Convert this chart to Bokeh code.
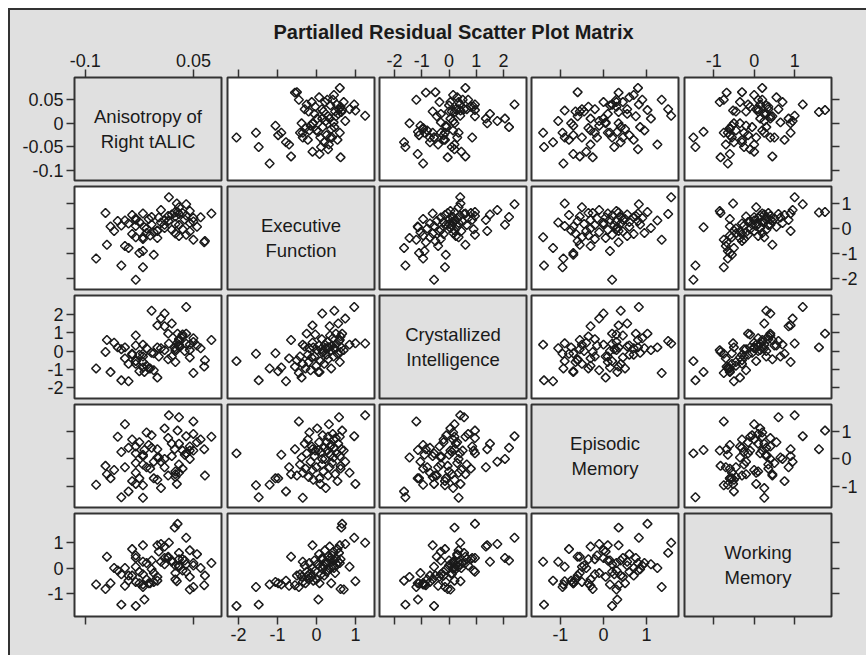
import numpy as np
from bokeh.plotting import figure
from bokeh.layouts import gridplot, column
from bokeh.models import Range1d, FixedTicker, Label, LinearAxis
from bokeh.embed import file_html
from bokeh.resources import INLINE
from bokeh.core.properties import value

# ---------------- data ----------------
panel_names = ["Anisotropy of\nRight tALIC", "Executive\nFunction",
               "Crystallized\nIntelligence", "Episodic\nMemory", "Working\nMemory"]

anisotropy = [-0.030, -0.020, -0.050, -0.085, -0.005, -0.025, -0.020, -0.040, -0.045, -0.070,
              0.065, 0.066, 0.050, -0.020, 0.000, -0.030, 0.030, -0.010, 0.040, -0.035,
              0.025, -0.015, -0.005, 0.045, -0.060, 0.000, 0.020, 0.035, -0.015, 0.010,
              -0.018, 0.055, -0.030, -0.050, 0.030, -0.008, 0.025, -0.040, 0.045, 0.005,
              -0.025, 0.050, 0.015, -0.045, 0.010, 0.038, -0.012, -0.030, 0.050, 0.002,
              -0.008, 0.025, 0.015, 0.040, -0.035, 0.020, 0.030, -0.020, 0.035, 0.024,
              0.028, 0.045, 0.005, 0.075, 0.030, 0.040, 0.027, 0.016, -0.055, -0.065,
              -0.030, 0.000, -0.072, 0.060, -0.020, 0.010]
executive = [-2.05, -1.55, -1.48, -1.20, -1.05, -0.98, -0.90, -0.78, -0.70, -0.65,
             -0.55, -0.50, -0.45, -0.42, -0.38, -0.35, -0.30, -0.28, -0.25, -0.22,
             -0.20, -0.18, -0.15, -0.12, -0.10, -0.08, -0.05, -0.03, 0.00, 0.02,
             0.05, 0.07, 0.10, 0.12, 0.14, 0.16, 0.18, 0.20, 0.22, 0.24,
             0.26, 0.28, 0.30, 0.32, 0.34, 0.36, 0.38, 0.40, 0.42, 0.44,
             0.46, 0.48, 0.50, 0.52, 0.54, 0.56, 0.58, 0.60, 0.62, 0.64,
             0.66, 0.70, 0.74, 0.60, 0.85, 0.97, 1.00, 1.25, 0.30, 0.08,
             0.35, -0.10, 0.62, 0.45, -0.35, 0.15]
crystallized = [-0.55, -0.15, -1.60, -0.95, -0.12, -1.10, -0.90, -1.65, -0.40, 0.60,
                -0.85, -0.50, -1.20, -0.30, -1.45, -0.70, 0.25, -0.95, 0.95, -0.20,
                -0.60, 0.15, -1.05, -0.35, 0.45, 0.20, -0.30, 0.90, -0.80, 0.05,
                -1.14, 0.30, -0.55, 0.10, 0.65, -0.10, 0.00, -0.70, 0.35, 0.15,
                -0.20, 0.50, -0.45, 0.20, 1.35, 0.00, -0.95, 0.30, 0.70, -0.30,
                2.20, 0.10, 0.95, 0.40, -0.15, 1.50, 0.55, -0.60, 0.80, 0.20,
                0.95, 0.05, 1.77, 0.60, 0.35, 2.40, 0.42, 0.41, 0.20, -1.15,
                0.85, 1.40, -0.05, 0.15, 0.35, 2.05]
episodic = [0.20, -0.95, -1.38, -0.93, -0.70, -0.70, 0.15, -1.17, -0.30, -0.55,
            0.35, -0.60, 1.35, -0.20, 0.05, -0.50, 0.55, -0.35, 0.20, 0.70,
            -0.65, 0.95, -0.10, 0.45, -0.40, -0.75, 0.10, 0.30, -0.30, 1.10,
            0.32, 0.60, -0.90, 0.25, -0.20, 0.85, -0.45, 0.40, 0.00, -1.05,
            0.60, 0.30, -0.60, 1.25, -0.30, 0.15, 0.50, -0.15, 0.90, 0.05,
            0.40, -0.55, 0.75, 0.20, -0.80, 0.55, 1.50, 0.10, -0.35, 0.35,
            1.02, 0.30, -0.10, 0.80, -0.50, 0.82, -0.90, 1.57, 0.80, -0.70,
            0.45, 0.35, -0.25, 0.70, -1.40, 0.00]
working = [-1.50, -0.75, -1.45, -0.65, -0.55, -0.60, -0.65, -0.50, -0.70, 0.45,
           -0.68, -0.30, -0.75, -0.25, -0.35, -0.55, 0.10, -0.60, -0.15, -0.30,
           -0.45, 0.20, -0.20, -0.35, 0.00, -0.50, 0.30, -0.10, -0.45, 0.15,
           -1.25, 0.55, 0.05, -0.25, 0.35, -0.05, 0.10, -0.30, 0.70, 0.25,
           -0.15, 0.20, 0.45, 0.00, 0.85, 0.30, -0.60, 0.50, 0.10, 0.65,
           0.30, -0.20, 0.40, 0.15, 0.75, 0.25, 0.60, 0.90, 0.35, 1.60,
           1.75, -0.85, 0.95, 0.20, 0.05, 1.20, -0.52, 1.00, -0.10, -0.60,
           0.40, 0.90, -0.83, 0.00, 0.25, 0.40]

variables = [anisotropy, executive, crystallized, episodic, working]

x_ticks = [[-0.1, 0.05], [-2, -1, 0, 1], [-2, -1, 0, 1, 2], [-1, 0, 1], [-1, 0, 1]]
y_ticks = [[-0.1, -0.05, 0, 0.05], [-2, -1, 0, 1], [-2, -1, 0, 1, 2], [-1, 0, 1], [-1, 0, 1]]
x_limits = [(-0.115, 0.089), (-2.28, 1.49), (-2.55, 2.84), (-1.67, 1.74), (-1.72, 1.91)]
y_limits = [(-0.121, 0.097), (-2.44, 1.68), (-2.59, 3.03), (-1.75, 1.96), (-1.92, 2.16)]

title_text = "Partialled Residual Scatter Plot Matrix"

# ---------------- layout / style ----------------
GRAY = "#e0e0e0"
INK = "#1a1a1a"
FONT = "Liberation Sans"
col_w = [214, 152, 152, 153, 185]
b_left = [64, 3, 3, 3, 3]
b_right = [3, 2, 2, 3, 35]
row_h = [141, 109, 109, 109, 145]
b_top = [35, 3, 3, 3, 3]
b_bot = [3, 3, 3, 3, 39]
TOTAL_W = sum(col_w)
TITLE_H = 32


def make_axis(ticks, show, standoff):
    ax = LinearAxis(ticker=FixedTicker(ticks=ticks))
    ax.major_label_overrides = {t: (f"{t:g}" if show else "") for t in ticks}
    ax.axis_line_color = None
    ax.major_tick_in = 0
    ax.major_tick_out = 8
    ax.minor_tick_line_color = None
    ax.major_tick_line_color = "#333333"
    ax.major_tick_line_width = 1.5
    ax.major_label_text_font = FONT
    ax.major_label_text_font_size = "18px"
    ax.major_label_text_color = INK
    ax.major_label_standoff = standoff
    return ax


rows = []
for r in range(5):
    row = []
    for c in range(5):
        p = figure(width=col_w[c], height=row_h[r], title=None,
                   x_range=Range1d(*x_limits[c]), y_range=Range1d(*y_limits[r]),
                   output_backend="svg", toolbar_location=None, tools="",
                   x_axis_location=None, y_axis_location=None,
                   min_border_left=b_left[c], min_border_right=b_right[c],
                   min_border_top=b_top[r], min_border_bottom=b_bot[r])
        p.xgrid.visible = False
        p.ygrid.visible = False
        p.outline_line_color = "#333333"
        p.outline_line_width = 2
        p.border_fill_color = GRAY
        if r == c:
            p.background_fill_color = GRAY
            xr, yr = x_limits[c], y_limits[r]
            p.text(x=[(xr[0] + xr[1]) / 2], y=[(yr[0] + yr[1]) / 2], text=[panel_names[r]],
                   text_align="center", text_baseline="middle",
                   text_font=value(FONT), text_font_size="18.5px", text_color=INK,
                   text_line_height=1.15)
        else:
            p.background_fill_color = "white"
            p.scatter(x=variables[c], y=variables[r], marker="square", angle=np.pi / 4,
                      size=6.3, fill_color=None, line_color=INK, line_width=1.5)
        if r == 0:
            p.add_layout(make_axis(x_ticks[c], c % 2 == 0, 3), "above")
        if r == 4:
            p.add_layout(make_axis(x_ticks[c], c % 2 == 1, 3), "below")
        if c == 0:
            p.add_layout(make_axis(y_ticks[r], r % 2 == 0, 3), "left")
        if c == 4:
            p.add_layout(make_axis(y_ticks[r], r % 2 == 1, 2), "right")
        row.append(p)
    rows.append(row)

grid = gridplot(rows, toolbar_location=None)

t = figure(width=TOTAL_W, height=TITLE_H, title=None, output_backend="svg",
           toolbar_location=None, tools="",
           x_axis_location=None, y_axis_location=None, min_border=0,
           x_range=Range1d(0, TOTAL_W), y_range=Range1d(0, TITLE_H))
t.xgrid.visible = False
t.ygrid.visible = False
t.outline_line_color = None
t.border_fill_color = GRAY
t.background_fill_color = GRAY
t.add_layout(Label(x=443, y=11, text=title_text,
                   text_align="center", text_baseline="middle",
                   text_font=FONT, text_font_size="20px", text_font_style="bold",
                   text_color=INK))

layout = column(t, grid, styles={"border-top": "2px solid #333333",
                                 "border-left": "2px solid #333333",
                                 "margin-left": "8px", "margin-top": "8px",
                                 "background-color": GRAY})

open("out.html", "w").write(file_html(layout, INLINE))
